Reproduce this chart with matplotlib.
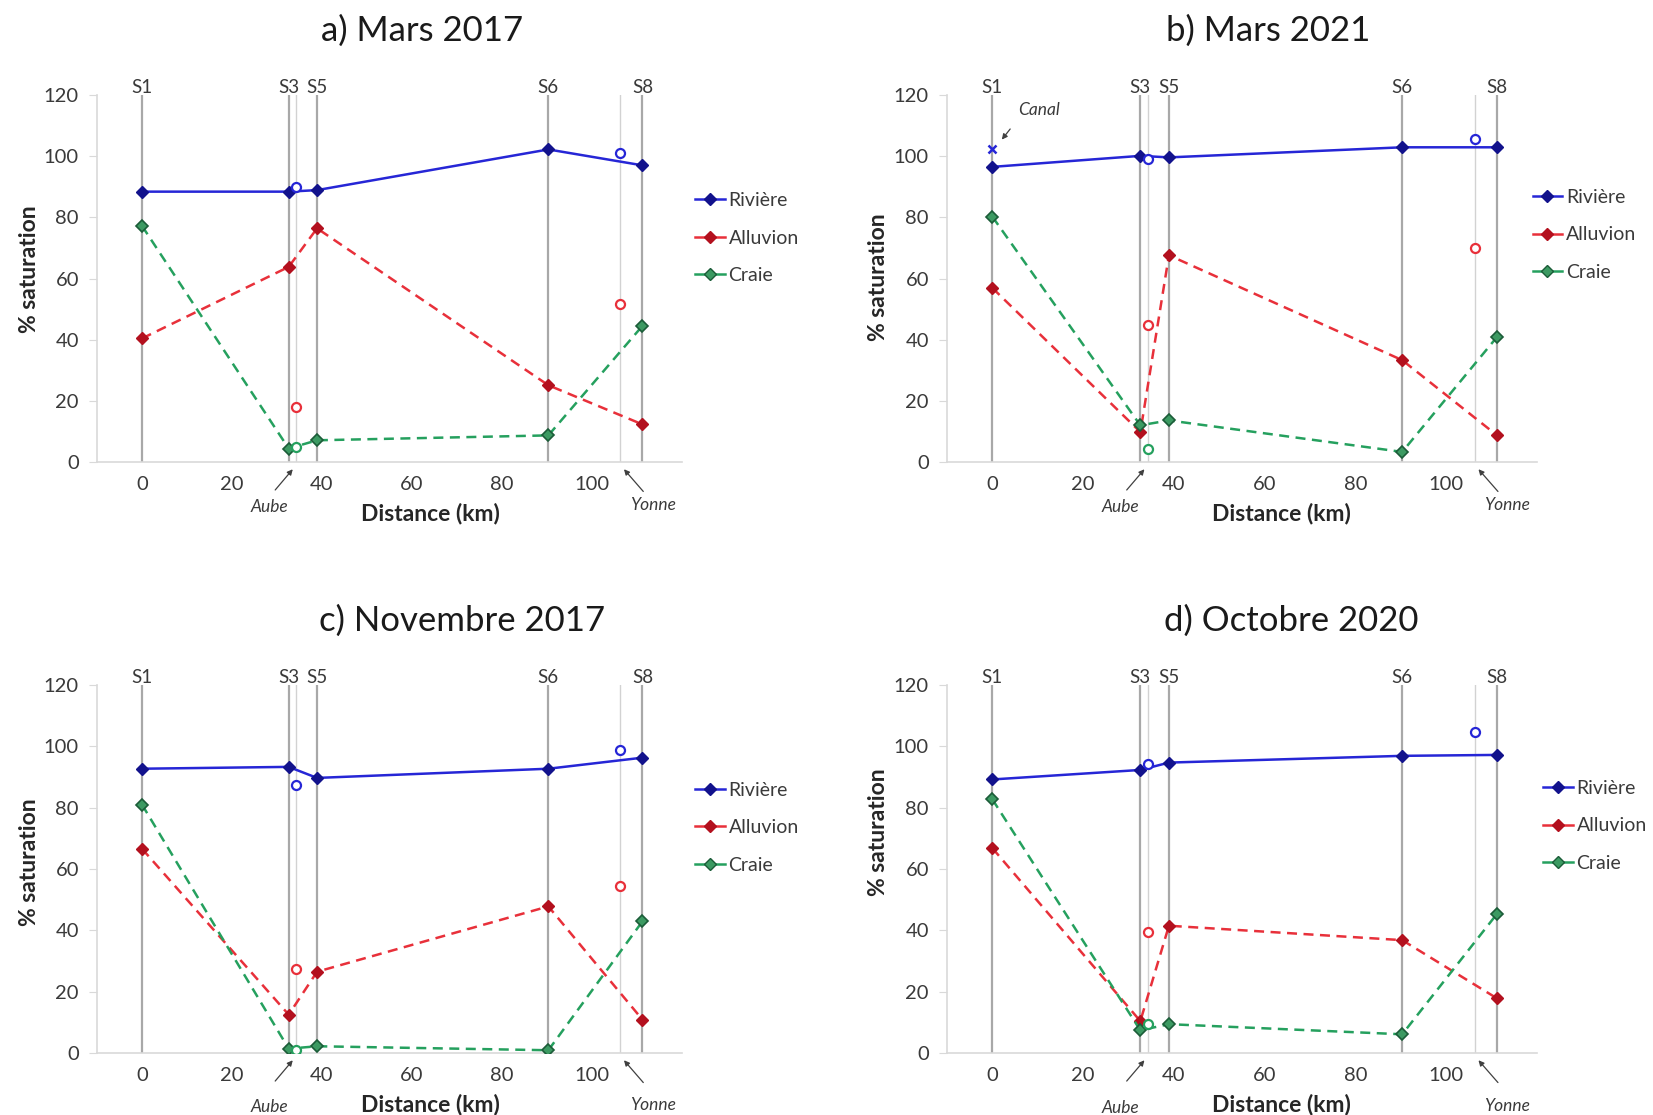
import matplotlib
matplotlib.use("Agg")
import matplotlib.pyplot as plt
from matplotlib.lines import Line2D

plt.rcParams['font.family'] = ['Lato', 'DejaVu Sans']

# stations le long de la Seine (km)
stations_km = [0, 32.6, 38.9, 90.3, 111.2]
station_names = ['S1', 'S3', 'S5', 'S6', 'S8']
aube_km = 34.3
yonne_km = 106.3

titles = ['a) Mars 2017', 'b) Mars 2021', 'c) Novembre 2017', 'd) Octobre 2020']

# % saturation aux stations S1, S3, S5, S6, S8
riviere = [
    [88.4, 88.4, 88.9, 102.2, 97.0],
    [96.5, 100.1, 99.6, 102.9, 102.9],
    [92.7, 93.3, 89.7, 92.7, 96.3],
    [89.2, 92.3, 94.7, 96.9, 97.2],
]
alluvion = [
    [40.4, 63.8, 76.4, 25.1, 12.3],
    [56.9, 9.8, 67.6, 33.3, 8.7],
    [66.6, 12.5, 26.5, 47.8, 10.9],
    [66.8, 10.4, 41.5, 36.8, 17.8],
]
craie = [
    [77.2, 4.4, 7.1, 8.7, 44.5],
    [80.2, 12.0, 13.6, 3.3, 40.9],
    [81.0, 1.4, 2.2, 0.9, 42.9],
    [82.7, 7.4, 9.4, 6.1, 45.4],
]
# affluents (cercles ouverts) : [rivière, alluvion, craie]
aube_vals = [
    [90.0, 18.0, 4.9],
    [99.0, 44.7, 4.4],
    [87.4, 27.3, 0.9],
    [94.1, 39.6, 9.4],
]
yonne_vals = [
    [100.9, 51.8, None],
    [105.6, 70.0, None],
    [98.8, 54.5, None],
    [104.7, None, None],
]
canal_mars2021 = 102.5

W, H = 1653, 1115
# boites des axes en pixels (gauche, haut, droite, bas)
boxes = [(97, 95, 682, 462), (947, 95, 1537, 462),
         (97, 685, 682, 1053), (947, 685, 1537, 1053)]
title_pos = [(422, 31), (1268, 31), (462, 621), (1291, 621)]
legend_anchor = [(1.023, 0.735), (0.993, 0.744), (1.023, 0.737), (1.011, 0.742)]
xlabel_x = [0.57, 0.566, 0.57, 0.566]
ylabel_y = [0.525, 0.504, 0.519, 0.60]
label_drop = [-0.123, -0.123, -0.147, -0.15]

c_riv, c_riv_m = '#2626D6', '#12128C'
c_all, c_all_m = '#E8303A', '#B3101E'
c_cra, c_cra_m, c_cra_e = '#25A05E', '#3C9A62', '#1B5C38'
txt = '#3A3A3A'

fig = plt.figure(figsize=(W / 100, H / 100), dpi=100)

for i in range(4):
    l, t, r, b = boxes[i]
    ax = fig.add_axes([l / W, 1 - b / H, (r - l) / W, (b - t) / H])
    ax.set_xlim(-10, 120)
    ax.set_ylim(0, 120)

    # lignes verticales des stations et des affluents
    for k, name in zip(stations_km, station_names):
        ax.axvline(k, color='#A8A8A8', lw=1.6, zorder=1)
        ax.text(k, 120.6, name, ha='center', va='baseline', fontsize=13.5,
                color=txt, clip_on=False)
    for k in (aube_km, yonne_km):
        ax.axvline(k, color='#D2D2D2', lw=1.0, zorder=1)

    dash = (0, (4, 2.6))
    ax.plot(stations_km, riviere[i], color=c_riv, lw=1.8, marker='D', ms=6.5,
            mfc=c_riv_m, mec=c_riv_m, zorder=4)
    ax.plot(stations_km, alluvion[i], color=c_all, lw=1.8, ls=dash, marker='D',
            ms=6.5, mfc=c_all_m, mec=c_all_m, zorder=4)
    ax.plot(stations_km, craie[i], color=c_cra, lw=1.8, ls=dash, marker='D',
            ms=6.5, mfc=c_cra_m, mec=c_cra_e, mew=1.2, zorder=4)

    # affluents : Aube et Yonne
    for km, vals in ((aube_km, aube_vals[i]), (yonne_km, yonne_vals[i])):
        for v, col in zip(vals, (c_riv, c_all, c_cra)):
            if v is not None:
                ax.plot([km], [v], 'o', mfc='white', mec=col, ms=6.5, mew=1.6,
                        zorder=5)

    if i == 1:
        ax.plot([0], [canal_mars2021], 'x', color=c_riv, ms=5.5, mew=1.8, zorder=5)
        ax.annotate('', xy=(1.7, 104.7), xytext=(4.3, 109.6),
                    arrowprops=dict(arrowstyle='-|>', color='#404040', lw=0.9,
                                    mutation_scale=8))
        ax.text(10.3, 115, 'Canal', style='italic', fontsize=12.5, color=txt,
                ha='center', va='center')

    # fleches sous l'axe
    tr = ax.get_xaxis_transform()
    ax.annotate('', xy=(33.9, -0.014), xytext=(29.2, -0.082), xycoords=tr,
                textcoords=tr, annotation_clip=False,
                arrowprops=dict(arrowstyle='-|>', color='#404040', lw=0.9,
                                mutation_scale=8))
    ax.text(28.3, label_drop[i], 'Aube', transform=tr, style='italic',
            fontsize=12.5, color=txt, ha='center', va='center')
    ax.annotate('', xy=(106.7, -0.014), xytext=(111.8, -0.086), xycoords=tr,
                textcoords=tr, annotation_clip=False,
                arrowprops=dict(arrowstyle='-|>', color='#404040', lw=0.9,
                                mutation_scale=8))
    ax.text(113.5, label_drop[i] + 0.005, 'Yonne', transform=tr, style='italic',
            fontsize=12.5, color=txt, ha='center', va='center')

    # axes
    for side in ('top', 'right'):
        ax.spines[side].set_visible(False)
    for side in ('left', 'bottom'):
        ax.spines[side].set_color('#D9D9D9')
        ax.spines[side].set_linewidth(1.2)
    ax.set_xticks([0, 20, 40, 60, 80, 100])
    ax.set_yticks(range(0, 121, 20))
    ax.tick_params(axis='y', length=6, color='#D9D9D9', labelsize=14.5,
                   labelcolor=txt, pad=7)
    ax.tick_params(axis='x', length=0, labelsize=14.5, labelcolor=txt, pad=10)

    ax.text(xlabel_x[i], -0.14, 'Distance (km)', transform=ax.transAxes,
            fontsize=16.5, fontweight='bold', color='#262626', ha='center',
            va='center')
    ax.text(-0.116, ylabel_y[i], '% saturation', transform=ax.transAxes,
            rotation=90, fontsize=16.5, fontweight='bold', color='#262626',
            ha='center', va='center')

    fig.text(title_pos[i][0] / W, 1 - title_pos[i][1] / H, titles[i],
             fontsize=25, color='#1A1A1A', ha='center', va='center')

    handles = [
        Line2D([0], [0], color=c_riv, lw=1.8, marker='D', ms=6, mfc=c_riv_m, mec=c_riv_m),
        Line2D([0], [0], color=c_all, lw=1.8, marker='D', ms=6, mfc=c_all_m, mec=c_all_m),
        Line2D([0], [0], color=c_cra, lw=1.8, marker='D', ms=6, mfc=c_cra_m, mec=c_cra_e),
    ]
    ax.legend(handles, ['Rivière', 'Alluvion', 'Craie'], loc='upper left',
              bbox_to_anchor=legend_anchor[i], frameon=False, fontsize=14,
              handlelength=1.5, handletextpad=0.2, labelspacing=1.05,
              borderpad=0, borderaxespad=0, labelcolor=txt)

fig.savefig('out.png', dpi=100, facecolor='white')
